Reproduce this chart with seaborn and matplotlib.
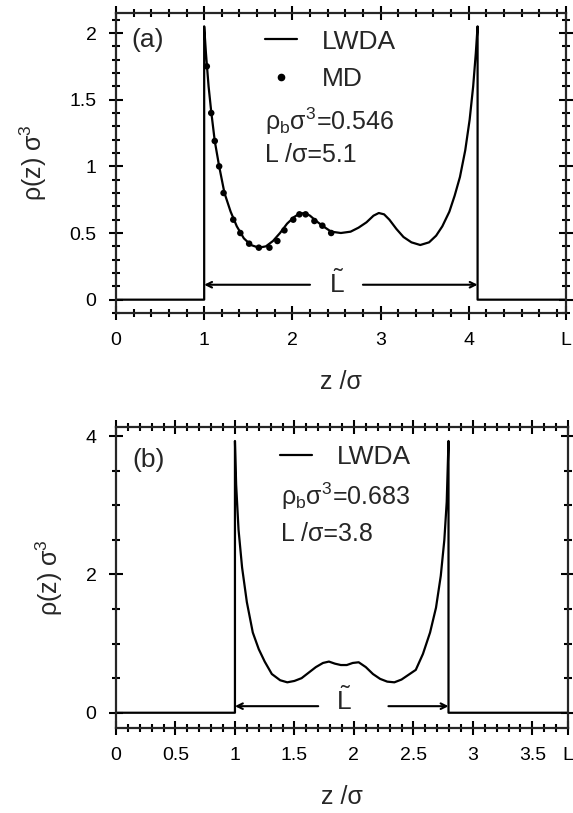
import matplotlib
matplotlib.use("Agg")
import matplotlib.pyplot as plt
import seaborn as sns
from matplotlib import ticker
from matplotlib.lines import Line2D

# panel (a): rho_b sigma^3 = 0.546, L/sigma = 5.1
z_a = [0, 1.0, 1.0, 1.02, 1.05, 1.08, 1.12, 1.17, 1.23, 1.30, 1.37, 1.45, 1.53, 1.62,
       1.70, 1.78, 1.86, 1.94, 2.02, 2.08, 2.14, 2.20, 2.27, 2.35, 2.44, 2.55, 2.66,
       2.75, 2.84, 2.92, 2.98, 3.04, 3.10, 3.18, 3.26, 3.35, 3.45, 3.55, 3.63, 3.70,
       3.78, 3.84, 3.90, 3.96, 4.01, 4.05, 4.08, 4.1, 4.1, 5.1]
rho_a = [0, 0, 2.05, 1.85, 1.60, 1.41, 1.19, 1.00, 0.80, 0.66, 0.55, 0.46, 0.41, 0.39,
         0.40, 0.44, 0.50, 0.57, 0.62, 0.645, 0.65, 0.63, 0.59, 0.55, 0.51, 0.50, 0.51,
         0.54, 0.58, 0.63, 0.65, 0.64, 0.60, 0.53, 0.47, 0.43, 0.41, 0.43, 0.48, 0.55,
         0.66, 0.78, 0.92, 1.12, 1.35, 1.60, 1.85, 2.05, 0, 0]

z_md = [1.03, 1.08, 1.12, 1.17, 1.22, 1.33, 1.41, 1.51, 1.62, 1.74, 1.83, 1.91, 2.01,
        2.08, 2.15, 2.25, 2.34, 2.44]
rho_md = [1.75, 1.40, 1.19, 1.00, 0.80, 0.60, 0.50, 0.42, 0.39, 0.39, 0.44, 0.52, 0.60,
          0.64, 0.64, 0.59, 0.555, 0.50]

# panel (b): rho_b sigma^3 = 0.683, L/sigma = 3.8
z_b = [0, 1.0, 1.0, 1.01, 1.03, 1.06, 1.10, 1.15, 1.20, 1.25, 1.31, 1.38, 1.44, 1.50,
       1.56, 1.62, 1.68, 1.74, 1.79, 1.84, 1.89, 1.94, 1.99, 2.04, 2.10, 2.16, 2.22,
       2.28, 2.34, 2.40, 2.46, 2.52, 2.58, 2.64, 2.69, 2.73, 2.76, 2.78, 2.795, 2.795, 3.8]
rho_b = [0, 0, 3.93, 3.30, 2.65, 2.10, 1.60, 1.16, 0.92, 0.74, 0.56, 0.47, 0.44, 0.46,
         0.50, 0.58, 0.66, 0.72, 0.74, 0.71, 0.69, 0.69, 0.72, 0.73, 0.66, 0.56, 0.49,
         0.45, 0.44, 0.48, 0.55, 0.62, 0.85, 1.16, 1.52, 1.98, 2.50, 3.05, 3.93, 0, 0]

sns.set_style("ticks")
plt.rcParams["font.family"] = ["Liberation Sans", "DejaVu Sans"]
plt.rcParams["mathtext.default"] = "regular"
plt.rcParams["axes.linewidth"] = 1.6

fig = plt.figure(figsize=(5.73, 8.13), dpi=100)
ax1 = fig.add_axes([0.2024, 0.615, 0.785, 0.369])
ax2 = fig.add_axes([0.2024, 0.1046, 0.789, 0.370])


def style_axes(ax, xmaj, xlabels, xminor, ymaj, ylabels, yminor):
    ax.set_xticks(xmaj)
    ax.set_xticklabels(xlabels)
    ax.set_yticks(ymaj)
    ax.set_yticklabels(ylabels)
    ax.xaxis.set_minor_locator(ticker.MultipleLocator(xminor))
    ax.yaxis.set_minor_locator(ticker.MultipleLocator(yminor))
    ax.tick_params(which="both", direction="inout", top=True, right=True,
                   width=1.5, labelsize=14, colors="black")
    ax.tick_params(which="major", length=10, pad=9)
    ax.tick_params(which="minor", length=6)
    ax.tick_params(axis="x", labeltop=False)
    ax.tick_params(axis="y", labelright=False)
    ax.set_xlabel("z /σ", fontsize=18, labelpad=15)
    ax.set_ylabel("ρ(z) σ$^3$", fontsize=18, labelpad=15)


txt = dict(fontsize=18, va="center", ha="left")

# (a)
sns.lineplot(x=z_a, y=rho_a, estimator=None, sort=False, color="black", lw=1.6, ax=ax1)
sns.scatterplot(x=z_md, y=rho_md, color="black", s=22, edgecolor="none", ax=ax1)
ax1.set_xlim(0, 5.1)
ax1.set_ylim(-0.1, 2.15)
style_axes(ax1, [0, 1, 2, 3, 4, 5.1], ["0", "1", "2", "3", "4", "L"], 0.2,
           [0, 0.5, 1, 1.5, 2], ["0", "0.5", "1", "1.5", "2"], 0.1)
h_line = Line2D([], [], color="black", lw=1.6)
h_dot = Line2D([], [], color="black", lw=0, marker="o", markersize=4.5)
ax1.legend([h_line, h_dot], ["LWDA", "MD"], loc="upper left", bbox_to_anchor=(0.331, 0.945),
           frameon=False, fontsize=19, borderpad=0, borderaxespad=0, handlelength=1.21,
           handletextpad=0.95, labelspacing=0.52)
ax1.text(0.18, 1.95, "(a)", fontsize=19, va="center", ha="left")
ax1.text(1.695, 1.335, r"$\rho_b\sigma^3$=0.546", **txt)
ax1.text(1.695, 1.086, "L /σ=5.1", **txt)
ax1.text(2.51, 0.12, r"$\tilde{L}$", fontsize=19, va="center", ha="center")
ax1.annotate("", xy=(1.0, 0.112), xytext=(2.2, 0.112),
             arrowprops=dict(arrowstyle="->", lw=1.5, color="black", shrinkA=0, shrinkB=0))
ax1.annotate("", xy=(4.1, 0.112), xytext=(2.8, 0.112),
             arrowprops=dict(arrowstyle="->", lw=1.5, color="black", shrinkA=0, shrinkB=0))

# (b)
sns.lineplot(x=z_b, y=rho_b, estimator=None, sort=False, color="black", lw=1.6, ax=ax2)
ax2.set_xlim(0, 3.8)
ax2.set_ylim(-0.22, 4.13)
style_axes(ax2, [0, 0.5, 1, 1.5, 2, 2.5, 3, 3.5, 3.8],
           ["0", "0.5", "1", "1.5", "2", "2.5", "3", "3.5", "L"], 0.1,
           [0, 2, 4], ["0", "2", "4"], 0.5)
ax2.legend([h_line], ["LWDA"], loc="upper left", bbox_to_anchor=(0.363, 0.94),
           frameon=False, fontsize=19, borderpad=0, borderaxespad=0, handlelength=1.21,
           handletextpad=0.95)
ax2.text(0.135, 3.65, "(b)", fontsize=19, va="center", ha="left")
ax2.text(1.39, 3.13, r"$\rho_b\sigma^3$=0.683", **txt)
ax2.text(1.39, 2.58, "L /σ=3.8", **txt)
ax2.text(1.915, 0.17, r"$\tilde{L}$", fontsize=19, va="center", ha="center")
ax2.annotate("", xy=(1.0, 0.095), xytext=(1.70, 0.095),
             arrowprops=dict(arrowstyle="->", lw=1.5, color="black", shrinkA=0, shrinkB=0))
ax2.annotate("", xy=(2.795, 0.095), xytext=(2.29, 0.095),
             arrowprops=dict(arrowstyle="->", lw=1.5, color="black", shrinkA=0, shrinkB=0))

fig.savefig("out.png", dpi=100, facecolor="white")
